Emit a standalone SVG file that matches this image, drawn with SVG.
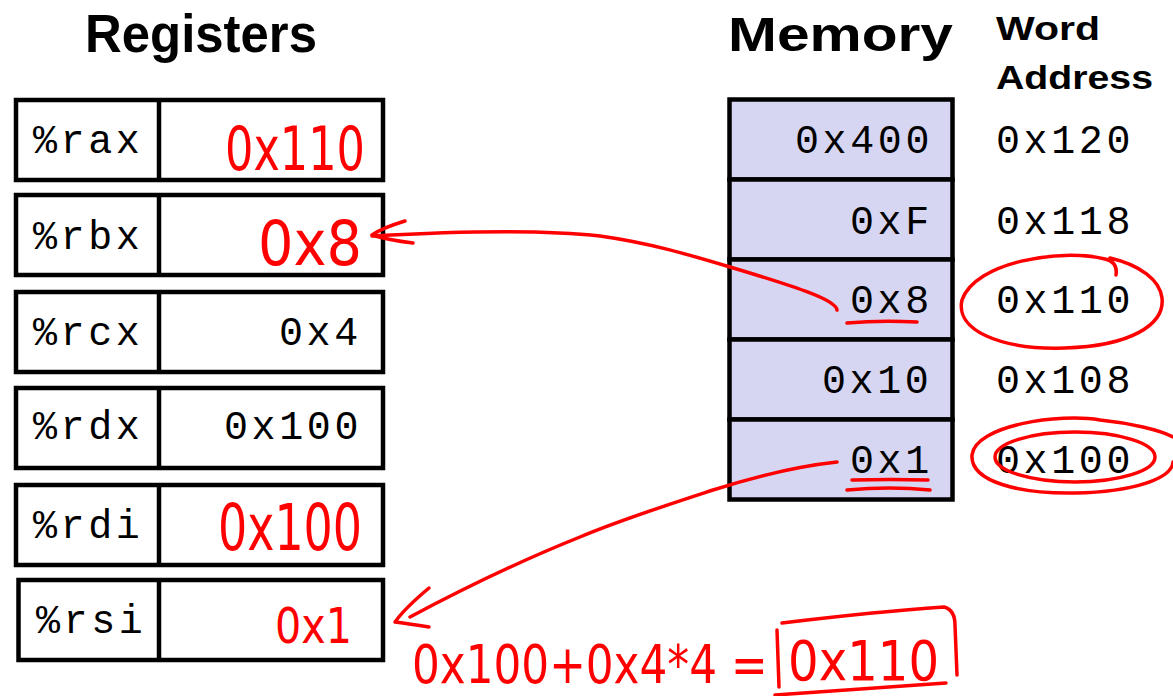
<svg xmlns="http://www.w3.org/2000/svg" width="1173" height="696" viewBox="0 0 1173 696">
<style>
.title{font-family:"Liberation Sans",Arial,sans-serif;font-weight:bold;fill:#000}
.mono{font-family:"Liberation Mono","Courier New",monospace;font-size:40px;letter-spacing:3.6px;fill:#000}
.reg{fill:#fff;stroke:#000;stroke-width:4.5}
.mem{fill:#D6D6F2;stroke:#000;stroke-width:4.5}
.div{stroke:#000;stroke-width:4.5}
.hand{font-family:"DejaVu Sans","Liberation Sans",sans-serif;fill:#FF0000}
.ink{fill:none;stroke:#FF0000;stroke-width:3.5;stroke-linecap:round;stroke-linejoin:round}
</style>
<rect width="1173" height="696" fill="#fff"/>
<g id="titles">
<text class="title" x="85" y="52" font-size="54" textLength="232" lengthAdjust="spacingAndGlyphs">Registers</text>
<text class="title" x="728" y="51" font-size="49" textLength="225" lengthAdjust="spacingAndGlyphs">Memory</text>
<text class="title" x="996" y="40" font-size="34" textLength="104" lengthAdjust="spacingAndGlyphs">Word</text>
<text class="title" x="996" y="89" font-size="34" textLength="157" lengthAdjust="spacingAndGlyphs">Address</text>
</g>
<g id="reg-rax">
<rect class="reg" x="16" y="100" width="367" height="80"/><line class="div" x1="159" y1="100" x2="159" y2="180"/>
<text class="mono" x="33" y="153">%rax</text>
<text class="hand" x="225" y="170" font-size="60" textLength="140" lengthAdjust="spacingAndGlyphs">0x110</text>
</g>
<g id="reg-rbx">
<rect class="reg" x="16" y="195" width="367" height="80"/><line class="div" x1="159" y1="195" x2="159" y2="275"/>
<text class="mono" x="33" y="249">%rbx</text>
<text class="hand" x="258" y="265" font-size="62" textLength="104" lengthAdjust="spacingAndGlyphs">0x8</text>
</g>
<g id="reg-rcx">
<rect class="reg" x="16" y="292" width="367" height="80"/><line class="div" x1="159" y1="292" x2="159" y2="372"/>
<text class="mono" x="33" y="345">%rcx</text>
<text class="mono" x="279" y="345">0x4</text>
</g>
<g id="reg-rdx">
<rect class="reg" x="16" y="388" width="367" height="80"/><line class="div" x1="159" y1="388" x2="159" y2="468"/>
<text class="mono" x="33" y="439">%rdx</text>
<text class="mono" x="224" y="439">0x100</text>
</g>
<g id="reg-rdi">
<rect class="reg" x="16" y="485" width="367" height="80"/><line class="div" x1="159" y1="485" x2="159" y2="565"/>
<text class="mono" x="33" y="538">%rdi</text>
<text class="hand" x="218" y="550" font-size="64" textLength="144" lengthAdjust="spacingAndGlyphs">0x100</text>
</g>
<g id="reg-rsi">
<rect class="reg" x="18.5" y="580" width="364.5" height="80"/><line class="div" x1="159" y1="580" x2="159" y2="660"/>
<text class="mono" x="36" y="633">%rsi</text>
<text class="hand" x="275" y="643" font-size="50" textLength="77" lengthAdjust="spacingAndGlyphs">0x1</text>
</g>
<g id="mem-0x120">
<rect class="mem" x="729.5" y="99.5" width="223" height="80"/>
<text class="mono" x="795" y="153">0x400</text>
<text class="mono" x="996" y="153">0x120</text>
</g>
<g id="mem-0x118">
<rect class="mem" x="729.5" y="179.5" width="223" height="80"/>
<text class="mono" x="850" y="234">0xF</text>
<text class="mono" x="996" y="234">0x118</text>
</g>
<g id="mem-0x110">
<rect class="mem" x="729.5" y="259.5" width="223" height="80"/>
<text class="mono" x="850" y="313">0x8</text>
<text class="mono" x="996" y="313">0x110</text>
</g>
<g id="mem-0x108">
<rect class="mem" x="729.5" y="339.5" width="223" height="80"/>
<text class="mono" x="822" y="393">0x10</text>
<text class="mono" x="996" y="393">0x108</text>
</g>
<g id="mem-0x100">
<rect class="mem" x="729.5" y="419.5" width="223" height="80"/>
<text class="mono" x="850" y="473">0x1</text>
<text class="mono" x="996" y="473">0x100</text>
</g>
<g id="connectors">
<path class="ink" d="M837,310 C836,300 800,288 730,267 C690,255 650,243 600,236 C540,229 460,231 372,236"/>
<path class="ink" d="M405,221 Q382,228 372,235 Q388,240 413,243"/>
<path class="ink" d="M837,462 C800,466 760,475 713,490 C670,504 620,520 580,537 C530,557 470,585 410,617"/>
<path class="ink" d="M429,588 Q405,608 395,622 Q410,624 429,627"/>
</g>
<g id="annotations">
<path class="ink" d="M847,323 Q880,320 917,322"/>
<path class="ink" d="M852,480 Q890,479 928,480"/>
<path class="ink" d="M847,490 Q890,486 930,490"/>
<path class="ink" d="M1116,275 Q1118,262 1105,259 C1060,248 975,262 962,300 C955,330 1000,350 1065,348 C1130,346 1165,325 1162,298 C1160,280 1140,265 1110,258"/>
<ellipse class="ink" cx="1075" cy="457" rx="80" ry="25"/>
<path class="ink" d="M1100,420 C1060,413 975,425 972,455 C970,482 1020,494 1075,493 C1135,492 1172,478 1173,462 M1100,420 C1130,423 1160,430 1173,437"/>
<text class="hand" font-size="54" transform="translate(412,683) scale(0.81,1)">0x100+0x4*4 =</text>
<text class="hand" font-size="56" transform="translate(788,680) scale(0.86,1)">0x110</text>
<path class="ink" d="M782,623 C840,616 900,610 944,607 Q955,610 955,625 L957,675"/>
<path class="ink" d="M777,630 L779,687"/>
<path class="ink" d="M775,695 C840,690 900,686 946,683"/>
</g>
</svg>
